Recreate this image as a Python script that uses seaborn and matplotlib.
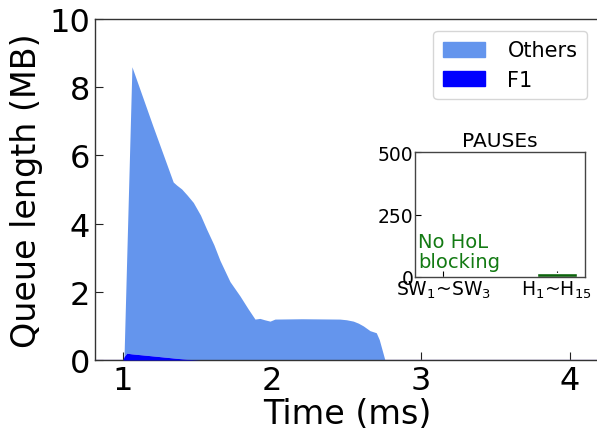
import numpy as np
import pandas as pd
import matplotlib
matplotlib.use("Agg")
import matplotlib.pyplot as plt
import seaborn as sns
from matplotlib.patches import Patch

# ---- data ----
time_ms = [0.81, 1.0, 1.007, 1.025, 1.06, 1.2, 1.337, 1.36, 1.394, 1.43, 1.472, 1.52,
           1.561, 1.61, 1.651, 1.718, 1.785, 1.84, 1.886, 1.919, 1.95, 1.987, 2.02,
           2.2, 2.456, 2.5, 2.546, 2.58, 2.613, 2.658, 2.70, 2.72, 2.758, 3.0, 4.2]
f1_mb = [0, 0, 0.1, 0.2, 0.18, 0.12, 0.06, 0.05, 0.035, 0.02, 0.01, 0,
         0, 0, 0, 0, 0, 0, 0, 0, 0, 0, 0,
         0, 0, 0, 0, 0, 0, 0, 0, 0, 0, 0, 0]
others_mb = [0, 0, 0, 2.8, 8.42, 6.75, 5.16, 5.08, 4.98, 4.82, 4.61, 4.25,
             3.84, 3.38, 2.92, 2.3, 1.88, 1.5, 1.2, 1.22, 1.18, 1.14, 1.2,
             1.21, 1.2, 1.18, 1.14, 1.08, 1.0, 0.86, 0.8, 0.6, 0, 0, 0]

pause_groups = ["SW$_1$~SW$_3$", "H$_1$~H$_{15}$"]
pause_counts = [0, 15]

xticks_main = [1, 2, 3, 4]
yticks_main = [0, 2, 4, 6, 8, 10]
yticks_inset = [0, 250, 500]

# ---- style ----
sns.set_style("ticks")
plt.rcParams["font.family"] = ["DejaVu Sans"]
plt.rcParams["text.color"] = "black"
plt.rcParams["axes.labelcolor"] = "black"
plt.rcParams["xtick.color"] = "black"
plt.rcParams["ytick.color"] = "black"

fig = plt.figure(figsize=(5.97, 4.31), dpi=100)
ax = fig.add_axes([0.1586, 0.1624, 0.846, 0.7912])

df = pd.DataFrame({"t": time_ms, "F1": f1_mb, "Others": others_mb})
top = df["F1"] + df["Others"]
sns.lineplot(x=df["t"], y=df["F1"] * 0, ax=ax, color="#9a86d8", lw=1.0, zorder=1)
ax.fill_between(df["t"], df["F1"], top, color="cornflowerblue", lw=0, zorder=2)
ax.fill_between(df["t"], 0, df["F1"], color="blue", lw=0, zorder=3)

ax.set_xlim(0.81, 4.2)
ax.set_ylim(0, 10)
ax.set_xticks(xticks_main)
ax.set_yticks(yticks_main)
ax.tick_params(direction="in", labelsize=23, length=6, colors="#222222", labelcolor="black")
ax.set_xlabel("Time (ms)", fontsize=24, labelpad=1)
ax.set_ylabel("Queue length (MB)", fontsize=24, labelpad=4)
ax.spines["right"].set_visible(False)
for s in ["left", "top", "bottom"]:
    ax.spines[s].set_color("#333333")
    ax.spines[s].set_linewidth(1.0)

handles = [Patch(color="cornflowerblue", label="Others"), Patch(color="blue", label="F1")]
leg = ax.legend(handles=handles, loc="upper right", fontsize=15, frameon=True,
                bbox_to_anchor=(0.995, 0.995), handlelength=2.0, handleheight=0.75,
                handletextpad=1.1, borderpad=0.45, labelspacing=0.45)
leg.get_frame().set_edgecolor("#cccccc")

# ---- inset ----
ax2 = fig.add_axes([0.695, 0.355, 0.285, 0.29])
sns.barplot(x=pause_groups, y=pause_counts, ax=ax2, color="#0c640c", width=0.35,
            saturation=1)
ax2.set_xlim(-0.25, 1.25)
ax2.set_ylim(0, 500)
ax2.set_yticks(yticks_inset)
ax2.set_xlabel("")
ax2.set_ylabel("")
ax2.set_title("PAUSEs", fontsize=14.5, pad=4)
ax2.tick_params(direction="in", labelsize=13.5, length=4, pad=1)
for s in ax2.spines.values():
    s.set_visible(True)
    s.set_color("#444444")
    s.set_linewidth(1.0)
ax2.text(0.02, 0.05, "No HoL\nblocking", transform=ax2.transAxes, color="#137a13",
         fontsize=14, ha="left", va="bottom", linespacing=1.05)

fig.savefig("out.png", dpi=100)
